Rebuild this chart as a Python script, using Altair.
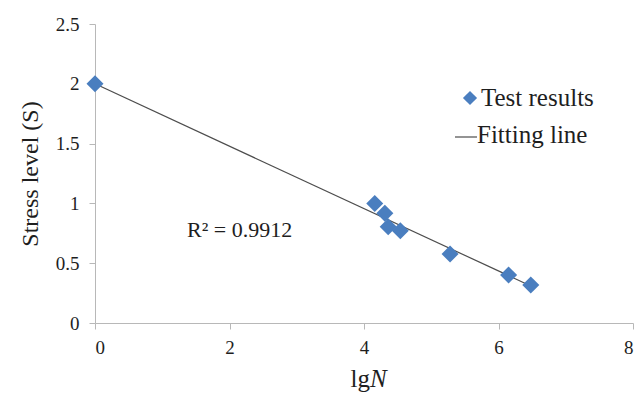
import altair as alt
import pandas as pd

lgN = [0.0, 4.16, 4.31, 4.36, 4.54, 5.28, 6.15, 6.48]
stress = [2.0, 1.00, 0.917, 0.805, 0.772, 0.577, 0.401, 0.318]
fit_x = [0.0, 6.48]
fit_y = [2.0, 0.31]
x_ticks = [0, 2, 4, 6, 8]
y_ticks = [0, 0.5, 1, 1.5, 2, 2.5]

pts = pd.DataFrame({"x": lgN, "y": stress})
fit = pd.DataFrame({"x": fit_x, "y": fit_y})

FONT = "Liberation Serif"
INK = "#1e1e1e"
AX = "#b8b8b8"
xs = alt.Scale(domain=[0, 8], nice=False)
ys = alt.Scale(domain=[0, 2.5], nice=False)

xaxis = alt.Axis(values=x_ticks, format="~g", grid=False, title=None, labelFont=FONT, labelFontSize=19,
                 labelColor=INK, domainColor=AX, tickColor=AX, tickSize=6,
                 labelPadding=9)
yaxis = alt.Axis(values=y_ticks, format="~g", grid=False, title="Stress level (S)", titleFont=FONT,
                 titleFontSize=24, titleFontWeight="normal", titleColor=INK, titlePadding=13,
                 labelFont=FONT, labelFontSize=19, labelColor=INK, domainColor=AX,
                 tickColor=AX, tickSize=6, labelPadding=10)

line = alt.Chart(fit).mark_line(color="#4d4d4d", strokeWidth=1.2).encode(
    x=alt.X("x:Q", scale=xs, axis=xaxis),
    y=alt.Y("y:Q", scale=ys, axis=yaxis),
)
points = alt.Chart(pts).mark_point(shape="diamond", filled=True, size=290, opacity=1,
                                   color="#4a7ebf").encode(x="x:Q", y="y:Q")

r2 = alt.Chart(pd.DataFrame({"t": ["R² = 0.9912"]})).mark_text(
    font=FONT, fontSize=22, color=INK, align="left", baseline="middle"
).encode(text="t:N", x=alt.value(92), y=alt.value(206))

xt1 = alt.Chart(pd.DataFrame({"t": ["lg"]})).mark_text(
    font=FONT, fontSize=25, color=INK, align="right", baseline="alphabetic"
).encode(text="t:N", x=alt.value(275), y=alt.value(363))
xt2 = alt.Chart(pd.DataFrame({"t": ["N"]})).mark_text(
    font=FONT, fontSize=25, fontStyle="italic", color=INK, align="left", baseline="alphabetic"
).encode(text="t:N", x=alt.value(275), y=alt.value(363))

leg_sym = alt.Chart(pd.DataFrame({"a": [1]})).mark_point(
    shape="diamond", filled=True, size=200, opacity=1, color="#4a7ebf"
).encode(x=alt.value(375), y=alt.value(74))
leg_t1 = alt.Chart(pd.DataFrame({"t": ["Test results"]})).mark_text(
    font=FONT, fontSize=25, color=INK, align="left", baseline="middle"
).encode(text="t:N", x=alt.value(386), y=alt.value(74))
leg_line = alt.Chart(pd.DataFrame({"a": [1]})).mark_rule(color="#4d4d4d", strokeWidth=1.2).encode(
    x=alt.value(360), x2=alt.value(382), y=alt.value(113))
leg_t2 = alt.Chart(pd.DataFrame({"t": ["Fitting line"]})).mark_text(
    font=FONT, fontSize=25, color=INK, align="left", baseline="middle"
).encode(text="t:N", x=alt.value(382), y=alt.value(111))

chart = alt.layer(line, points, r2, xt1, xt2, leg_sym, leg_t1, leg_line, leg_t2).properties(
    width=538, height=299,
    background="white",
    autosize=alt.AutoSizeParams(type="none"),
    padding={"left": 95, "top": 24, "right": 6, "bottom": 74},
).configure(font=FONT).configure_view(stroke=None)

chart.save("out.html", embed_options={"renderer": "svg", "actions": False})
